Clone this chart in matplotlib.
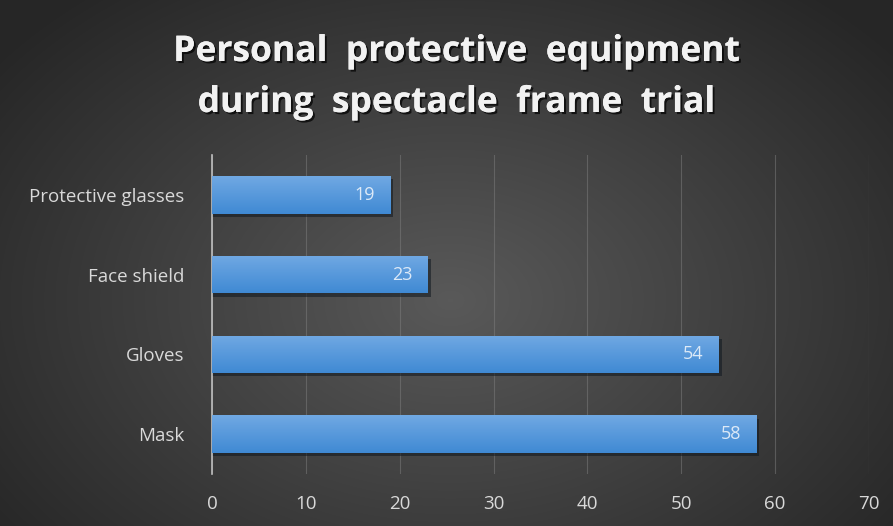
import matplotlib.pyplot as plt
import matplotlib.patheffects as pe
import numpy as np

categories = ["Mask", "Gloves", "Face shield", "Protective glasses"]
values = [58, 54, 23, 19]
x_ticks = [0, 10, 20, 30, 40, 50, 60, 70]
title_lines = ["Personal  protective  equipment", "during  spectacle  frame  trial"]

plt.rcParams["font.family"] = ["Open Sans", "DejaVu Sans"]

fig = plt.figure(figsize=(8.93, 5.26), dpi=100)

# radial dark background
bg = fig.add_axes([0, 0, 1, 1], zorder=-10)
yy, xx = np.mgrid[0:526, 0:893]
r = np.sqrt(((xx - 450) / 600.0) ** 2 + ((yy - 300) / 420.0) ** 2)
shade = np.clip(0.35 - 0.21 * r, 0.15, 0.35)
bg.imshow(np.dstack([shade, shade, shade]), aspect="auto", extent=[0, 1, 0, 1])
bg.axis("off")

ax = fig.add_axes([212 / 893, 52 / 526, 657 / 893, 319 / 526])
ax.patch.set_alpha(0)

ypos = np.arange(len(categories))
bars = ax.barh(ypos, values, height=0.47, color="none", zorder=3)

grad = np.linspace(0, 1, 50)[:, None]
top = np.array([0.44, 0.66, 0.89])
bot = np.array([0.25, 0.54, 0.83])
img = (top[None, None, :] * (1 - grad[..., None]) + bot[None, None, :] * grad[..., None])
img = np.repeat(img, 2, axis=1)

for b, v in zip(bars, values):
    y0 = b.get_y()
    h = b.get_height()
    # shadow
    ax.barh(y0 + h / 2 - 0.04, v + 0.3, height=h, color="#101820", alpha=0.55, zorder=2)
    im = ax.imshow(img, extent=[0, v, y0, y0 + h], aspect="auto", zorder=3,
                   origin="upper")
    im.set_clip_path(b)
    ax.text(v - 1.6, y0 + h / 2, str(v), ha="right", va="center",
            color="#dce9f7", fontsize=13, zorder=4)

ax.set_xlim(0, 70)
ax.set_ylim(-0.5, len(categories) - 0.5)
ax.set_xticks(x_ticks)
ax.set_yticks(ypos)
ax.set_yticklabels(categories)
ax.tick_params(axis="both", length=0, colors="#d9d9d9", labelsize=13.5)
ax.tick_params(axis="x", pad=15)
ax.tick_params(axis="y", pad=20)
ax.grid(axis="x", color="#7f7f7f", lw=0.8, alpha=0.5, zorder=0)
for s in ["top", "right", "bottom"]:
    ax.spines[s].set_visible(False)
ax.spines["left"].set_color("#bfbfbf")
ax.spines["left"].set_linewidth(1.2)

shadow = [pe.withSimplePatchShadow(offset=(1.5, -1.5), shadow_rgbFace="black", alpha=0.7),
          pe.Normal()]
for line, ypx in zip(title_lines, [52, 103]):
    fig.text(456 / 893, 1 - ypx / 526.0, line, ha="center", va="center", color="#f2f2f2",
             fontsize=25.5, fontweight="bold", path_effects=shadow)

fig.savefig("out.png", dpi=100)
